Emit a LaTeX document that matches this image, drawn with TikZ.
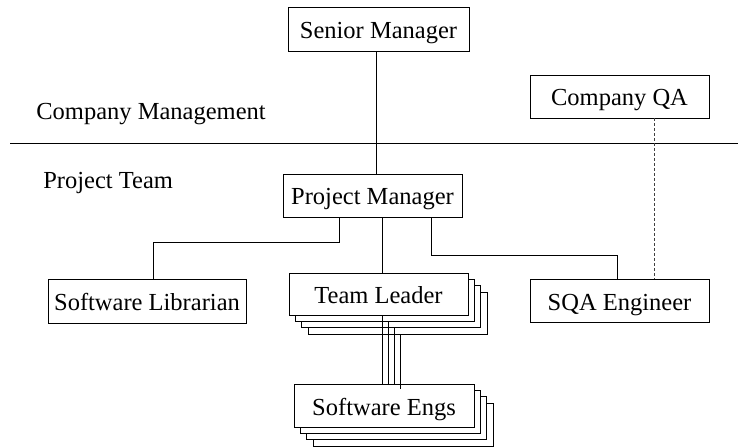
\documentclass[tikz,border=0pt]{standalone}
\usepackage{fontspec}
\setmainfont{Liberation Serif}
\begin{document}
\begin{tikzpicture}[x=1bp,y=-1bp,
  every path/.style={line width=0.75bp},
  lbl/.style={font=\fontsize{24.5bp}{28bp}\selectfont, inner sep=0pt},
  box/.style={draw, fill=white, rectangle, inner sep=0pt, line width=0.75bp,
    text height=20bp, text depth=1bp,
    font=\fontsize{24.5bp}{28bp}\selectfont},
  link/.style={draw, line width=0.75bp},
  qalink/.style={draw, line width=0.75bp, dash pattern=on 3bp off 2bp, black!75}]
\useasboundingbox (0,0) rectangle (738,447);

% region divider and labels
\draw (10,143) -- (738,143);
\node[lbl, anchor=base west] (cm) at (36,120) {Company Management};
\node[lbl, anchor=base west] (pt) at (43,189) {Project Team};

% single boxes
\node[box, minimum width=181bp, minimum height=44bp] (SM) at (378.5,29) {Senior Manager};
\node[box, minimum width=179bp, minimum height=43bp] (CQA) at (619.5,96.5) {Company QA};
\node[box, minimum width=179bp, minimum height=43bp] (PM) at (372.5,195.5) {Project Manager};
\node[box, minimum width=198bp, minimum height=44bp] (SL) at (147,301) {Software Librarian};
\node[box, minimum width=179bp, minimum height=43bp] (SQA) at (619.5,300.5) {SQA Engineer};

% Team Leader stack
\node[box, minimum width=179bp, minimum height=42bp] (TL4) at (397.4,312.9) {};
\node[box, minimum width=179bp, minimum height=42bp] (TL3) at (391.1,306.6) {};
\node[box, minimum width=179bp, minimum height=42bp] (TL2) at (384.8,300.3) {};
\node[box, minimum width=179bp, minimum height=42bp] (TL1) at (378.5,294) {Team Leader};

% Software Engs stack
\node[box, minimum width=180bp, minimum height=43bp] (SE4) at (402.9,424.4) {};
\node[box, minimum width=180bp, minimum height=43bp] (SE3) at (396.6,418.1) {};
\node[box, minimum width=180bp, minimum height=43bp] (SE2) at (390.3,411.8) {};
\node[box, minimum width=180bp, minimum height=43bp] (SE1) at (384,405.5) {Software Engs};

% junction points
\coordinate (jl) at (153,242);
\coordinate (jr) at (617,255);

% connectors
\draw[link] ([xshift=-2.5bp]SM.south) -- ([xshift=-2.5bp]SM.south |- PM.north);
\draw[link] ([xshift=-33.5bp]PM.south) |- (jl) -- (jl |- SL.north);
\draw[link] ([xshift=9.5bp]PM.south) -- ([xshift=9.5bp]PM.south |- TL1.north);
\draw[link] ([xshift=58.5bp]PM.south) |- (jr) -- (jr |- SQA.north);
\draw[qalink] ([xshift=34.5bp]CQA.south) -- ([xshift=34.5bp]CQA.south |- SQA.north);

\draw[link] ([xshift=3.5bp]TL1.south) -- ([xshift=3.5bp]TL1.south |- SE1.north);
\draw[link] ([xshift=3.2bp]TL2.south) -- ([xshift=3.2bp]TL2.south |- SE1.north);
\draw[link] ([xshift=2.9bp]TL3.south) -- ([xshift=2.9bp]TL3.south |- SE1.north);
\draw[link] ([xshift=2.6bp]TL4.south) -- ([xshift=2.6bp,yshift=-5bp]TL4.south |- SE1.north);
\end{tikzpicture}
\end{document}
